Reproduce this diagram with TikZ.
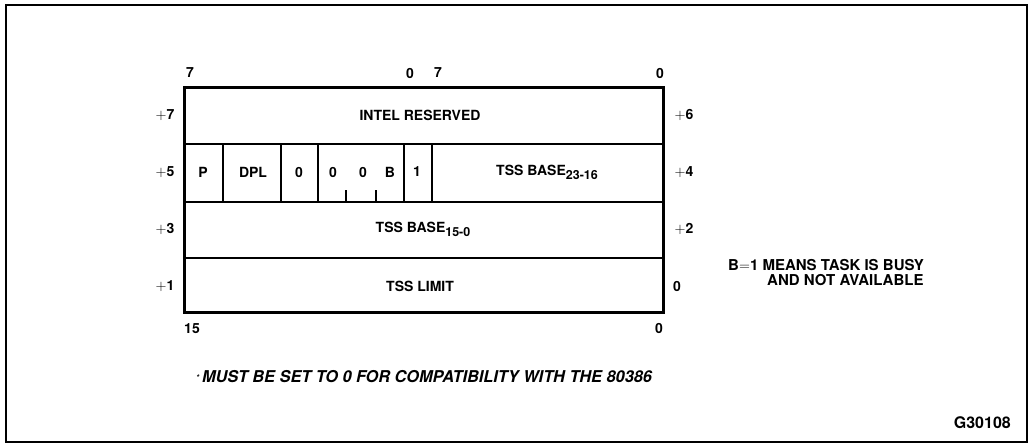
\documentclass[tikz,border=0pt]{standalone}
\usepackage{fontspec}
\setmainfont{TeX Gyre Heros}
\begin{document}
\begin{tikzpicture}[x=1pt,y=-1pt,
  lbl/.style={inner sep=0pt,font=\fontsize{14}{16}\selectfont\bfseries},
  sml/.style={inner sep=0pt,font=\fontsize{15}{17}\selectfont\bfseries},
  thickbox/.style={line width=3pt},
  rowline/.style={line width=2.2pt},
  cellline/.style={line width=1.5pt}]
\useasboundingbox (0,0) rectangle (1030,444);
% outer frame
\draw[line width=1.8pt] (6,5) rectangle (1027,442);
% main box
\coordinate (tl) at (184,87);
\coordinate (br) at (663,312);
\draw[rowline] (184,144) -- (663,144);
\draw[rowline] (184,202) -- (663,202);
\draw[rowline] (184,258) -- (663,258);
\foreach \x in {223,281,318,404,432} \draw[cellline] (\x,144) -- (\x,202);
\foreach \x in {346,376} \draw[cellline] (\x,190) -- (\x,202);
\draw[thickbox] (tl) rectangle (br);
% bit numbers
\node[lbl] (b7a) at (190,73) {7};
\node[lbl] (b0a) at (410,73) {0};
\node[lbl] (b7b) at (438,73) {7};
\node[lbl] (b0b) at (660,73) {0};
\node[lbl] (b15) at (192,329) {15};
\node[lbl] (b0c) at (659,328) {0};
% byte offsets
\node[lbl] (o7) at (165,115) {$+$7};
\node[lbl] (o5) at (165,172) {$+$5};
\node[lbl] (o3) at (165,229) {$+$3};
\node[lbl] (o1) at (165,286) {$+$1};
\node[lbl] (o6) at (684,115) {$+$6};
\node[lbl] (o4) at (684,172) {$+$4};
\node[lbl] (o2) at (684,229) {$+$2};
\node[lbl] (o0) at (677,286) {0};
% fields
\node[lbl] (res) at (420,115) {INTEL RESERVED};
\node[lbl] (p) at (203,172) {P};
\node[lbl] (dpl) at (253,172) {DPL};
\node[lbl] (z1) at (299,172) {0};
\node[lbl] (z2) at (333,172) {0};
\node[lbl] (z3) at (363,172) {0};
\node[lbl] (bb) at (390,172) {B};
\node[lbl] (one) at (417,172) {1};
\node[lbl] (base2) at (547,172) {TSS BASE\raisebox{-4pt}{\fontsize{12.5}{13}\selectfont 23-16}};
\node[lbl] (base1) at (423,229) {TSS BASE\raisebox{-4pt}{\fontsize{12.5}{13}\selectfont 15-0}};
\node[lbl] (lim) at (420,286) {TSS LIMIT};
% notes
\node[sml,anchor=west] (n1) at (728,265) {B$=$1 MEANS TASK IS BUSY};
\node[sml,anchor=west] (n2) at (767,280.5) {AND NOT AVAILABLE};
\node[sml,anchor=west,font=\fontsize{16.3}{18}\selectfont\bfseries\itshape] (note) at (196,377) {\raisebox{2pt}{\fontsize{8}{8}\selectfont *}\,MUST BE SET TO 0 FOR COMPATIBILITY WITH THE 80386};
\node[lbl,anchor=east,font=\fontsize{16}{18}\selectfont\bfseries] (fig) at (1011,423) {G30108};
\end{tikzpicture}
\end{document}
